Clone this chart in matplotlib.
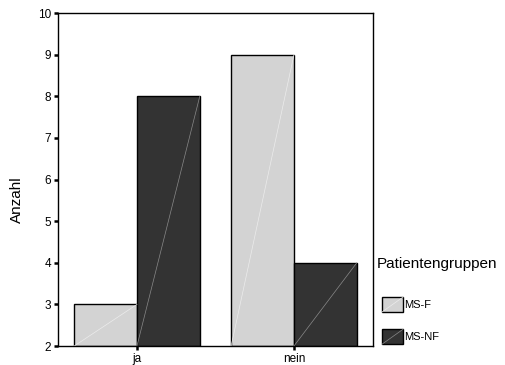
import matplotlib
matplotlib.use("Agg")
import matplotlib.pyplot as plt
from matplotlib.legend_handler import HandlerPatch
from matplotlib.patches import Rectangle
from matplotlib.lines import Line2D
import numpy as np

categories = ["ja", "nein"]
groups = ["MS-F", "MS-NF"]
ms_f = [3, 9]
ms_nf = [8, 4]
colors = ["#d3d3d3", "#333333"]
diag_colors = ["#ececec", "#8a8a8a"]
yticks = [2, 3, 4, 5, 6, 7, 8, 9, 10]

plt.rcParams['font.family'] = ['Liberation Sans', 'DejaVu Sans']

fig = plt.figure(figsize=(5.06, 3.65), dpi=100)
ax = fig.add_axes([0.1146, 0.052, 0.737 - 0.1146, 0.964 - 0.052])

x = np.arange(len(categories))
w = 0.4
base = 2
handles = []
for i, (vals, c, dc, lab) in enumerate(zip([ms_f, ms_nf], colors, diag_colors, groups)):
    offs = x - w + i * w
    bars = ax.bar(offs, np.array(vals) - base, width=w, bottom=base, align='edge',
                  color=c, edgecolor='black', linewidth=1.0, label=lab, zorder=2)
    for b in bars:
        x0 = b.get_x(); x1 = x0 + b.get_width()
        y0 = b.get_y(); y1 = y0 + b.get_height()
        ax.plot([x0, x1], [y0, y1], color=dc, linewidth=0.5, zorder=3)
    handles.append(Rectangle((0, 0), 1, 1, facecolor=c, edgecolor='black', linewidth=1.0))


class DiagHandler(HandlerPatch):
    def __init__(self, dcolor):
        super().__init__()
        self.dcolor = dcolor

    def create_artists(self, legend, orig_handle, xdescent, ydescent, width, height, fontsize, trans):
        p = Rectangle((-xdescent, -ydescent), width, height,
                      facecolor=orig_handle.get_facecolor(), edgecolor='black', linewidth=1.0,
                      transform=trans)
        ln = Line2D([-xdescent, -xdescent + width], [-ydescent, -ydescent + height],
                    color=self.dcolor, linewidth=0.5, transform=trans)
        return [p, ln]


ax.set_xlim(-0.503, 1.503)
ax.set_ylim(2, 10)
ax.set_yticks(yticks)
ax.set_xticks(x)
ax.set_xticklabels(categories)
ax.tick_params(axis='both', direction='out', length=3, width=1.8, labelsize=8.5, pad=2, colors='black')
for s in ax.spines.values():
    s.set_linewidth(1.0)
    s.set_color('black')
ax.set_ylabel("Anzahl", fontsize=11)
ax.yaxis.set_label_coords(-0.108, 0.44)

fig.text(377 / 506, 1 - 257 / 365, "Patientengruppen", fontsize=11, ha='left', va='top')

leg = fig.legend(handles=handles, labels=groups,
                 handler_map={handles[0]: DiagHandler(diag_colors[0]),
                              handles[1]: DiagHandler(diag_colors[1])},
                 loc='upper left', bbox_to_anchor=(382 / 506, 1 - 297 / 365), frameon=False,
                 fontsize=8,
                 handlelength=1.9, handleheight=1.7, handletextpad=0.05,
                 labelspacing=1.55, borderpad=0, borderaxespad=0)

fig.savefig("out.png", dpi=100)
